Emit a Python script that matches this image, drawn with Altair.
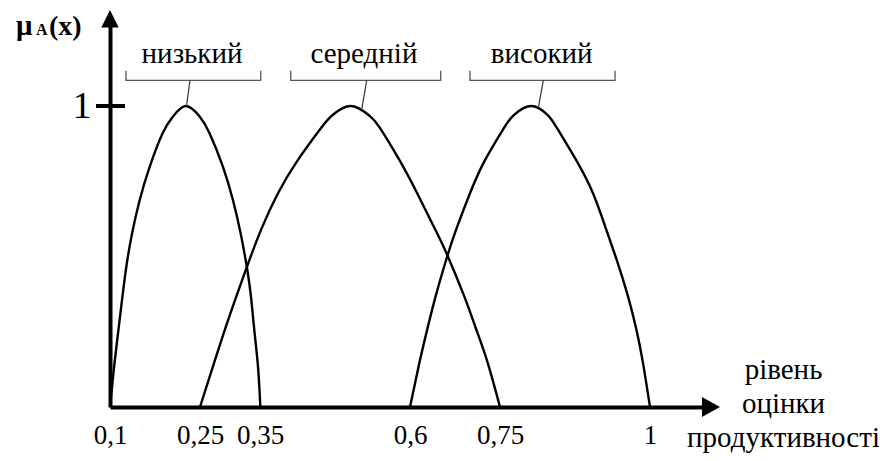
import altair as alt
import pandas as pd

FONT = "'Liberation Serif', 'Times New Roman', 'DejaVu Serif', 'Liberation Sans', sans-serif"

# --- membership curves (x = рівень, y = μ) ---
low_x = [0.1, 0.1068, 0.1133, 0.120, 0.1272, 0.1367, 0.1494, 0.1661, 0.1875, 0.205, 0.2265,
         0.2494, 0.2661, 0.2883, 0.305, 0.3178, 0.3289, 0.3356, 0.3411, 0.3467, 0.3506]
low_y = [0, 0.133, 0.244, 0.355, 0.466, 0.576, 0.687, 0.798, 0.909, 0.965, 1.0,
         0.965, 0.909, 0.798, 0.687, 0.576, 0.455, 0.355, 0.244, 0.133, 0]

mid_x = [0.25, 0.274, 0.292, 0.311, 0.329, 0.352, 0.380, 0.413, 0.453, 0.471, 0.501,
         0.531, 0.549, 0.5825, 0.612, 0.642, 0.661, 0.690, 0.710, 0.729, 0.75]
mid_y = [0, 0.15, 0.26, 0.37, 0.47, 0.59, 0.71, 0.82, 0.93, 0.97, 1.0,
         0.97, 0.93, 0.82, 0.71, 0.59, 0.51, 0.37, 0.26, 0.15, 0]

high_x = [0.6, 0.616, 0.629, 0.643, 0.662, 0.677, 0.700, 0.725, 0.7575, 0.773, 0.802,
          0.8295, 0.844, 0.877, 0.905, 0.927, 0.946, 0.963, 0.977, 0.988, 1.0]
high_y = [0, 0.15, 0.26, 0.37, 0.50, 0.59, 0.71, 0.82, 0.93, 0.97, 1.0,
          0.97, 0.93, 0.82, 0.71, 0.59, 0.48, 0.37, 0.26, 0.15, 0]

series_names = ["низький", "середній", "високий"]
tick_values = [0.1, 0.25, 0.35, 0.6, 0.75, 1.0]
y_tick_values = [1]
x_title = ["рівень", "оцінки", "продуктивності"]

# bracket labels above the peaks
label_x = [0.2367, 0.5233, 0.8195]
label_y = 1.1445
bracket_left = [0.1267, 0.4012, 0.7]
bracket_right = [0.3512, 0.6512, 0.9417]
bracket_bar = 1.085
bracket_top = 1.117
conn_x1 = [0.2333, 0.5278, 0.8222]
conn_x2 = [0.2275, 0.5195, 0.8138]
conn_y2 = [1.0, 0.987, 0.993]

# --- tables ---
rows = []
for name, xs_, ys_ in zip(series_names, [low_x, mid_x, high_x], [low_y, mid_y, high_y]):
    for i, (a, b) in enumerate(zip(xs_, ys_)):
        rows.append({"series": name, "i": i, "x": a, "y": b})
curves = pd.DataFrame(rows)

brows = []
for name, l, r in zip(series_names, bracket_left, bracket_right):
    pts = [(l, bracket_top), (l, bracket_bar), (r, bracket_bar), (r, bracket_top)]
    for i, (a, b) in enumerate(pts):
        brows.append({"series": name, "i": i, "x": a, "y": b})
brackets = pd.DataFrame(brows)

conns = pd.DataFrame({"series": series_names, "x": conn_x1, "x2": conn_x2,
                      "y": [bracket_bar] * 3, "y2": conn_y2})
labels = pd.DataFrame({"series": series_names, "x": label_x, "y": [label_y] * 3})

# plot area: page x 110..705, page y 20..407
xs = alt.Scale(domain=[0.1, 0.1 + 595 / 600], nice=False, zero=False)
ys = alt.Scale(domain=[0, 387 / 301], nice=False, zero=False)

x_axis = alt.Axis(values=tick_values, format="~g",
                  labelExpr="replace(datum.label, '.', ',')",
                  ticks=False, tickSize=0, grid=False,
                  domainColor="black", domainWidth=4,
                  labelFont=FONT, labelFontSize=27, labelColor="black",
                  labelBaseline="alphabetic", labelPadding=36,
                  labelFlush=False, labelOverlap=False,
                  titleFont=FONT, titleFontSize=29, titleFontWeight="normal",
                  titleColor="black", titleX=673, titleY=-29, titleAlign="center",
                  titleBaseline="alphabetic", titleLineHeight=34, titleAngle=0)
y_axis = alt.Axis(values=y_tick_values, format="~g", ticks=False, tickSize=0,
                  grid=False, domainColor="black", domainWidth=4,
                  labelFont=FONT, labelFontSize=38, labelColor="black",
                  labelPadding=19, labelBaseline="middle", labelFlush=False,
                  labelAlign="right")

curve_layer = alt.Chart(curves).mark_line(
    color="black", strokeWidth=2.4, interpolate="natural"
).encode(
    x=alt.X("x:Q", scale=xs, axis=x_axis, title=x_title),
    y=alt.Y("y:Q", scale=ys, axis=y_axis, title=None),
    detail="series:N",
    order="i:Q",
)

bracket_layer = alt.Chart(brackets).mark_line(color="#555555", strokeWidth=1.3).encode(
    x=alt.X("x:Q", scale=xs),
    y=alt.Y("y:Q", scale=ys),
    detail="series:N",
    order="i:Q",
)

conn_layer = alt.Chart(conns).mark_rule(color="#333333", strokeWidth=1.2).encode(
    x=alt.X("x:Q", scale=xs), x2="x2:Q",
    y=alt.Y("y:Q", scale=ys), y2="y2:Q",
)

label_layer = alt.Chart(labels).mark_text(
    font=FONT, fontSize=29, color="black", align="center", baseline="alphabetic"
).encode(
    x=alt.X("x:Q", scale=xs),
    y=alt.Y("y:Q", scale=ys),
    text="series:N",
)

# y tick crossing the axis at μ = 1
ytick = pd.DataFrame({"v": y_tick_values})
ytick_layer = alt.Chart(ytick).mark_rule(color="black", strokeWidth=4).encode(
    x=alt.value(-14), x2=alt.value(15),
    y=alt.Y("v:Q", scale=ys),
)

# arrowheads at the ends of the axes
arrow_x = pd.DataFrame({"x": [0.1 + 601 / 600], "y": [0]})
arrow_x_layer = alt.Chart(arrow_x).mark_point(
    shape="M-0.9,-1L0.9,0L-0.9,1Z", filled=True, size=400, color="black", opacity=1
).encode(x=alt.X("x:Q", scale=xs), y=alt.Y("y:Q", scale=ys))

arrow_y = pd.DataFrame({"x": [0.1], "y": [(407 - 18.7) / 301]})
arrow_y_layer = alt.Chart(arrow_y).mark_point(
    shape="M0,-1L1,1L-1,1Z", filled=True, size=303, color="black", opacity=1
).encode(x=alt.X("x:Q", scale=xs), y=alt.Y("y:Q", scale=ys))

# y-axis title μA(x)
t_mu = alt.Chart(pd.DataFrame({"t": ["μ"]})).mark_text(
    font=FONT, fontSize=29, fontWeight="bold", color="black",
    align="left", baseline="alphabetic"
).encode(x=alt.value(-94), y=alt.value(15), text="t:N")
t_a = alt.Chart(pd.DataFrame({"t": ["A"]})).mark_text(
    font=FONT, fontSize=16, fontWeight="bold", color="black",
    align="left", baseline="alphabetic"
).encode(x=alt.value(-74), y=alt.value(15), text="t:N")
t_x = alt.Chart(pd.DataFrame({"t": ["(x)"]})).mark_text(
    font=FONT, fontSize=28, fontWeight="bold", color="black",
    align="left", baseline="alphabetic"
).encode(x=alt.value(-61), y=alt.value(15), text="t:N")

chart = alt.layer(
    curve_layer, bracket_layer, conn_layer, label_layer, ytick_layer,
    arrow_x_layer, arrow_y_layer, t_mu, t_a, t_x
).properties(
    width=595, height=387,
    autosize=alt.AutoSizeParams(type="none"),
    padding={"left": 102, "top": 12, "right": 174, "bottom": 46},
    background="white",
).configure_view(stroke=None)

chart.save("out.html", embed_options={"renderer": "svg", "actions": False})
